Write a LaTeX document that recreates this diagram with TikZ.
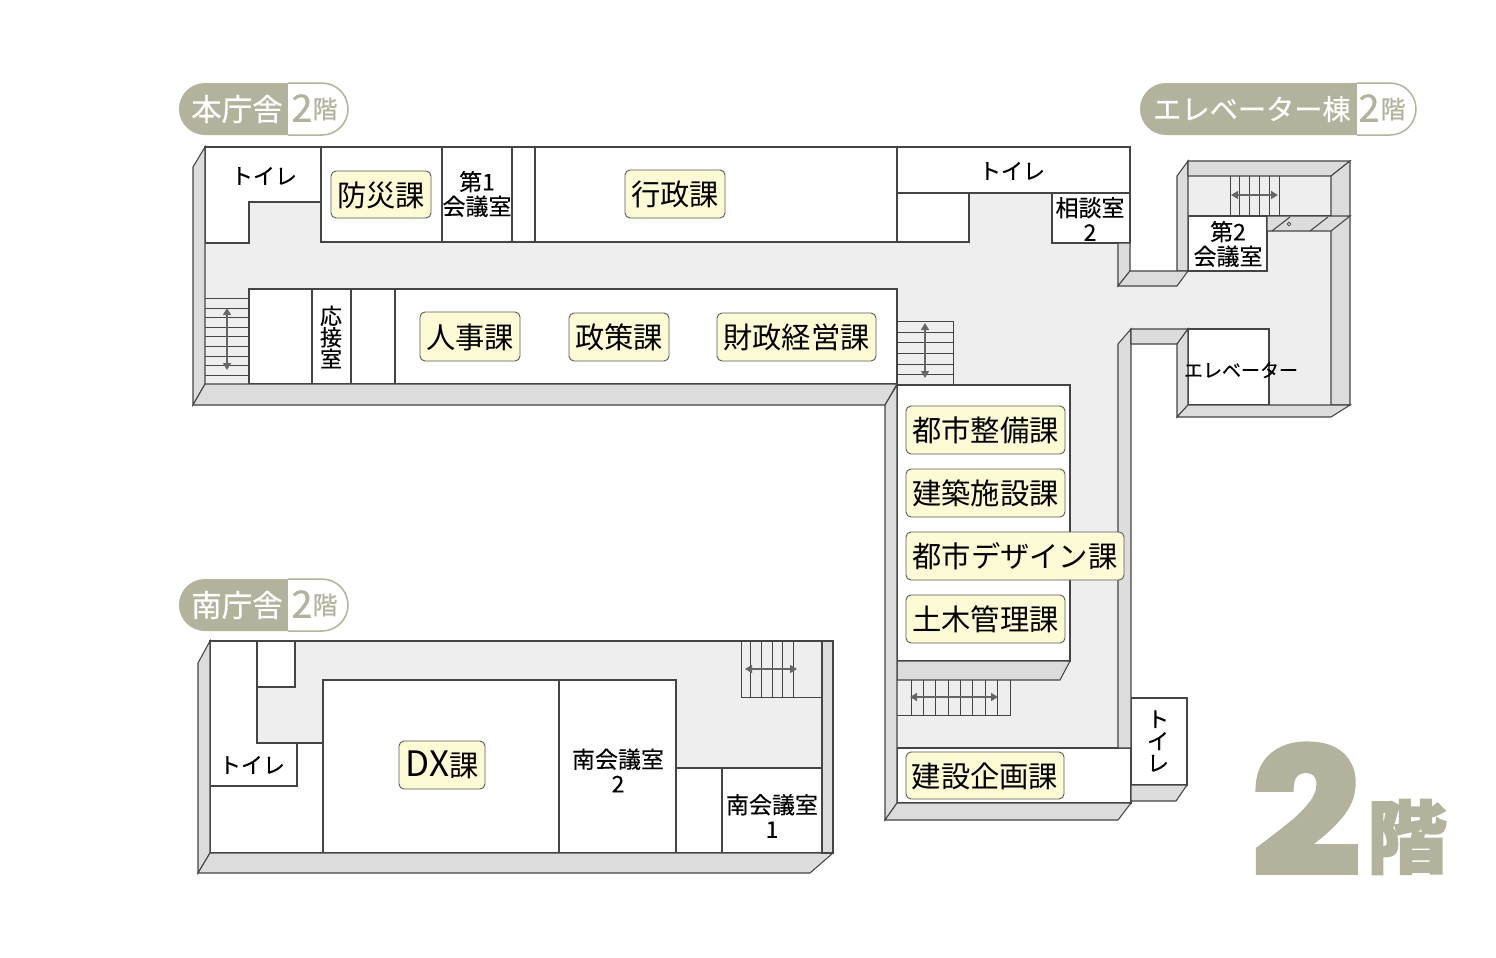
\documentclass[tikz,border=0pt]{standalone}
\usepackage{fontspec}
\setmainfont{Noto Sans CJK JP}
\newfontfamily\rlface[FakeBold=0.25]{Noto Sans CJK JP}
\newfontfamily\pillface[FakeBold=0.5]{Noto Sans CJK JP}
\newfontfamily\bigdigit[FakeBold=4,FakeStretch=1.1]{Poppins}
\newfontfamily\bigkai[FakeBold=2]{Noto Sans CJK JP}
\usetikzlibrary{arrows.meta}
\definecolor{pillc}{HTML}{B3B29C}
\definecolor{wallc}{HTML}{DCDCDC}
\definecolor{floorc}{HTML}{EEEEEE}
\definecolor{inkc}{HTML}{444444}
\definecolor{labelc}{HTML}{FDFBD6}
\definecolor{arrowc}{HTML}{666666}
\newcommand{\fsz}[1]{\fontsize{#1}{#1}\selectfont}
\newcommand{\fszl}[2]{\fontsize{#1}{#2}\selectfont}
\tikzset{
  room/.style={draw=inkc,fill=white,line width=1.05},
  wall/.style={draw=inkc,fill=wallc,line width=1.05},
  ln/.style={draw=inkc,line width=1.05},
  treadline/.style={draw=inkc,line width=0.9},
  office/.style={draw=black!65,fill=labelc,line width=0.9,rounded corners=5,inner sep=0,font=\fsz{29.3},text=black,text height=26,text depth=3},
  rl/.style={inner sep=0,font=\rlface\fszl{23}{24.5},align=center,text=black},
  stairarrow/.style={draw=arrowc,line width=1.4,{Triangle[length=7,width=8]}-{Triangle[length=7,width=8]}},
  pilltext/.style={inner sep=0,text=white,font=\pillface\fsz{30.5}},
  pillnum/.style={inner sep=0,text=pillc,font=\pillface\fsz{38}},
  pillkai/.style={inner sep=0,text=pillc,font=\pillface\fsz{25}}
}
\newcommand{\floorpill}[5]{%
  \begin{scope}\clip (#1-5,#4-5) rectangle (#2,#5+5);
    \fill[pillc,rounded corners=26] (#1,#4) rectangle (#3,#5);\end{scope}
  \begin{scope}\clip (#2,#4-5) rectangle (#3+5,#5+5);
    \draw[pillc,fill=white,line width=1.5,rounded corners=26] (#1,#4) rectangle (#3,#5);\end{scope}}
\begin{document}
\begin{tikzpicture}[x=1pt,y=-1pt]
\useasboundingbox (0,0) rectangle (1496,958);
\fill[white] (0,0) rectangle (1496,958);

% floors
\fill[floorc] (205,147)--(1130,147)--(1130,243)--(1118,243)--(1118,286)--(1177,286)--(1188,271)--(1188,176)--(1331,176)--(1331,405)--(1188,405)--(1188,329)--(1131,329)--(1118,344)--(1118,748)--(897,748)--(897,384)--(205,384)--cycle;
\fill[floorc] (210,641) rectangle (822,853);

% main building rooms
\draw[room] (205,147)--(321,147)--(321,202)--(249,202)--(249,243)--(205,243)--cycle;
\draw[room] (321,147) rectangle (442,242);
\draw[room] (442,147) rectangle (512,242);
\draw[room] (512,147) rectangle (535,242);
\draw[room] (535,147) rectangle (897,242);
\draw[room] (897,147) rectangle (1130,193);
\draw[room] (897,193) rectangle (969,242);
\draw[room] (1052,193) rectangle (1130,243);
\draw[room] (249,289) rectangle (897,384);
\draw[ln] (312,289)--(312,384) (351,289)--(351,384) (395,289)--(395,384);

% stairs, main building
\draw[treadline] (205,298)--(249,298);
\foreach \y in {308,317,327,336.5,346,356,365,375} \draw[treadline] (205,\y)--(249,\y);
\coordinate (sa1) at (227,308); \coordinate (sa2) at (227,370);
\draw[stairarrow] (sa1)--(sa2);
\draw[treadline] (897,321)--(953,321)--(953,385);
\foreach \y in {332,342,353,364,374} \draw[treadline] (897,\y)--(953,\y);
\coordinate (sb1) at (925,323); \coordinate (sb2) at (925,378);
\draw[stairarrow] (sb1)--(sb2);

% south wing
\draw[room] (897,385) rectangle (1070,661);
\draw[wall] (897,661)--(1070,661)--(1060,680)--(897,680)--cycle;
\draw[treadline] (897,715)--(1010,715)--(1010,680);
\foreach \x in {911,923,935,948,960,972,985,997} \draw[treadline] (\x,680)--(\x,715);
\coordinate (sc1) at (910,697); \coordinate (sc2) at (998,697);
\draw[stairarrow] (sc1)--(sc2);
\draw[room] (897,748) rectangle (1131,803);
\draw[room] (1131,698) rectangle (1187,785);
\draw[wall] (1131,785)--(1187,785)--(1176,801)--(1131,801)--cycle;

% elevator block
\draw[ln] (1188,216)--(1331,216);
\foreach \x in {1230,1239,1249,1259,1269,1279} \draw[treadline] (\x,176)--(\x,216);
\coordinate (sd1) at (1231,195); \coordinate (sd2) at (1278,195);
\draw[stairarrow] (sd1)--(sd2);
\draw[room] (1188,216) rectangle (1267,271);
\draw[room] (1188,329) rectangle (1269,405);

% walls, main building
\draw[wall] (205,147)--(205,384)--(193,405)--(193,167)--cycle;
\draw[wall] (205,384)--(897,384)--(885,405)--(193,405)--cycle;
\draw[wall] (897,385)--(897,803)--(885,820)--(885,405)--cycle;
\draw[wall] (897,803)--(1131,803)--(1118,820)--(885,820)--cycle;
\draw[wall] (1131,329)--(1131,748)--(1118,748)--(1118,344)--cycle;
\draw[wall] (1130,243)--(1130,271)--(1118,286)--(1118,243)--cycle;

% walls, elevator block
\draw[wall] (1188,161)--(1188,271)--(1177,271)--(1177,176)--cycle;
\draw[wall] (1130,271)--(1188,271)--(1177,286)--(1118,286)--cycle;
\draw[wall] (1188,161)--(1350,161)--(1331,176)--(1188,176)--cycle;
\draw[wall] (1350,161)--(1350,405)--(1331,405)--(1331,176)--cycle;
\draw[wall] (1267,216)--(1350,216)--(1331,231)--(1267,231)--cycle;
\draw[ln] (1272,231)--(1290,217) (1310,231)--(1328,217);
\draw[ln,line width=0.8,fill=white] (1289,224) circle[radius=1.8];
\draw[wall] (1131,329)--(1188,329)--(1177,344)--(1131,344)--cycle;
\draw[wall] (1188,329)--(1188,405)--(1177,417)--(1177,344)--cycle;
\draw[wall] (1188,405)--(1350,405)--(1331,417)--(1177,417)--cycle;

% south building
\draw[room] (210,641)--(257,641)--(257,743)--(323,743)--(323,853)--(210,853)--cycle;
\draw[room] (257,641) rectangle (295,687);
\draw[ln] (210,786)--(297,786)--(297,743);
\draw[room] (323,680) rectangle (559,853);
\draw[room] (559,680) rectangle (676,853);
\draw[room] (676,768) rectangle (822,853);
\draw[ln] (722,768)--(722,853);
\draw[treadline] (741,641)--(741,697)--(822,697);
\foreach \x in {750,761,772,782,793} \draw[treadline] (\x,641)--(\x,697);
\coordinate (se1) at (745,669); \coordinate (se2) at (797,669);
\draw[stairarrow] (se1)--(se2);
\draw[ln] (210,641)--(822,641);
\draw[wall] (210,641)--(210,853)--(198,873)--(198,663)--cycle;
\draw[wall] (210,853)--(833,853)--(810,873)--(198,873)--cycle;
\draw[wall] (822,641)--(833,641)--(833,853)--(822,853)--cycle;

% office labels
\node[office,minimum width=100,minimum height=47] (bosai) at (381,194.5) {防災課};
\node[office,minimum width=100,minimum height=48] (gyosei) at (675,194) {行政課};
\node[office,minimum width=100,minimum height=49] (jinji) at (470,336.5) {人事課};
\node[office,minimum width=100,minimum height=48] (seisaku) at (619,337) {政策課};
\node[office,minimum width=159,minimum height=48] (zaisei) at (796.5,337) {財政経営課};
\node[office,minimum width=159,minimum height=48] (toshi) at (985.5,430) {都市整備課};
\node[office,minimum width=159,minimum height=48] (kenchiku) at (985.5,493) {建築施設課};
\node[office,minimum width=218,minimum height=48] (design) at (1015,556) {都市デザイン課};
\node[office,minimum width=159,minimum height=48] (doboku) at (985.5,619) {土木管理課};
\node[office,minimum width=158,minimum height=47] (kikaku) at (985,775.5) {建設企画課};
\node[office,minimum width=86,minimum height=48] (dx) at (442,765) {{\fsz{35}DX}課};

% room labels
\node[rl,font=\rlface\fsz{22}] (wc1) at (264,176) {トイレ};
\node[rl,font=\rlface\fsz{22}] (wc2) at (1012,171) {トイレ};
\node[rl,font=\rlface\fsz{22}] (wc3) at (252,765) {トイレ};
\node[rl,font=\rlface\fszl{22}{22}] (wc4) at (1158,741) {ト\\イ\\レ};
\node[rl] (dai1) at (477,194) {第1\\会議室};
\node[rl] (sodan) at (1090,219) {相談室\\2};
\node[rl] (dai2) at (1228,244) {第2\\会議室};
\node[rl,font=\rlface\fszl{22}{21.5}] (osetsu) at (331,337) {応\\接\\室};
\node[rl,font=\rlface\fsz{19}] (ev) at (1241,370) {エレベーター};
\node[rl] (minami2) at (618,770.5) {南会議室\\2};
\node[rl] (minami1) at (772,816) {南会議室\\1};

% pills
\floorpill{179}{288}{348}{83}{135}
\node[pilltext] (p1) at (237,109) {本庁舎};
\node[pillnum] (p1n) at (302,108) {2};
\node[pillkai] (p1k) at (325,109) {階};
\floorpill{179}{288}{348}{579}{631}
\node[pilltext] (p2) at (237,605) {南庁舎};
\node[pillnum] (p2n) at (302,604) {2};
\node[pillkai] (p2k) at (325,605) {階};
\floorpill{1140}{1357}{1416}{83}{135}
\node[pilltext,font=\pillface\fsz{28.2}] (p3) at (1252,109) {エレベーター棟};
\node[pillnum] (p3n) at (1369,108) {2};
\node[pillkai] (p3k) at (1393,109) {階};

% big floor mark
\node[inner sep=0,text=pillc,font=\bigdigit\bfseries\fsz{172}] (big2) at (1306,809) {2};
\node[inner sep=0,text=pillc,font=\bigkai\bfseries\fsz{80}] (bigk) at (1407,837) {階};
\end{tikzpicture}
\end{document}
